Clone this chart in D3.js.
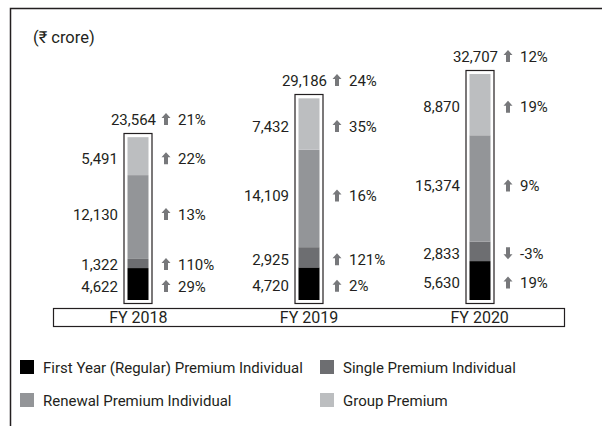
<!DOCTYPE html>
<html>
<head>
<meta charset="utf-8">
<script src="https://cdn.jsdelivr.net/npm/d3@7"></script>
<style>
  body { margin: 0; background: #fff; }
  svg text { font-family: Roboto, "Noto Sans", "DejaVu Sans", sans-serif; fill: #231f20; }
</style>
</head>
<body>
<div id="graph"></div>
<script>
  // data (₹ crore)
  const years = ["FY 2018", "FY 2019", "FY 2020"];
  const series = ["First Year (Regular) Premium Individual", "Single Premium Individual",
                  "Renewal Premium Individual", "Group Premium"];
  const first_year = [4622, 4720, 5630];
  const single = [1322, 2925, 2833];
  const renewal = [12130, 14109, 15374];
  const group = [5491, 7432, 8870];
  const totals = [23564, 29186, 32707];
  const growth_first = [29, 2, 19];
  const growth_single = [110, 121, -3];
  const growth_renewal = [13, 16, 9];
  const growth_group = [22, 35, 19];
  const growth_total = [21, 24, 12];
  const colors = ["#000000", "#6d6e71", "#939598", "#bcbec0"];

  const width = 602, height = 426;
  const ink = "#231f20";

  let svg = d3.select("#graph").append("svg")
    .attr("width", width)
    .attr("height", height);

  // frame (top + left only)
  svg.append("path")
    .attr("d", "M10.5,426 V8.5 H602")
    .attr("fill", "none")
    .attr("stroke", ink)
    .attr("stroke-width", 1.5);

  svg.append("text")
    .attr("x", 33).attr("y", 43)
    .style("font-size", "16.5px")
    .text("(₹ crore)");

  const values = [first_year, single, renewal, group];
  const growths = [growth_first, growth_single, growth_renewal, growth_group];

  let x = d3.scaleBand().domain(years).range([53, 565]);
  let y = d3.scaleLinear().domain([0, d3.max(totals)]).range([300, 74]);

  const bar_w = 21, pad = 4;

  // category strip
  svg.append("rect")
    .attr("x", 53.5).attr("y", 308.5)
    .attr("width", 511).attr("height", 18)
    .attr("fill", "none").attr("stroke", ink).attr("stroke-width", 1.2);
  svg.selectAll(".cat").data(years).enter().append("text")
    .attr("class", "cat")
    .attr("x", d => x(d) + x.bandwidth() / 2)
    .attr("y", 323)
    .attr("text-anchor", "middle")
    .style("font-size", "16px")
    .text(d => d);

  function arrow(g, cx, cy, up) {
    const s = up ? 1 : -1;
    g.append("path")
      .attr("d", `M${cx},${cy - 6 * s} L${cx + 4.5},${cy - 1 * s} L${cx + 2},${cy - 1 * s} L${cx + 2},${cy + 6 * s} L${cx - 2},${cy + 6 * s} L${cx - 2},${cy - 1 * s} L${cx - 4.5},${cy - 1 * s} Z`)
      .attr("fill", "#77787b");
  }

  years.forEach(function(yr, i) {
    const cx = Math.round(x(yr) + x.bandwidth() / 2);
    let g = svg.append("g");
    // stacked segments
    let base = 0;
    const segs = values.map(function(v, k) {
      const s = { k: k, y0: base, y1: base + v[i], v: v[i], gr: growths[k][i] };
      base += v[i];
      return s;
    });
    g.append("rect")
      .attr("x", cx - bar_w / 2 - pad + 0.5)
      .attr("y", Math.round(y(totals[i])) - pad + 0.5)
      .attr("width", bar_w + pad * 2 - 1)
      .attr("height", y(0) - Math.round(y(totals[i])) + pad * 2 - 1)
      .attr("fill", "#fff").attr("stroke", ink).attr("stroke-width", 1.2);
    g.selectAll(".seg").data(segs).enter().append("rect")
      .attr("class", "seg")
      .attr("x", cx - bar_w / 2)
      .attr("y", d => y(d.y1))
      .attr("width", bar_w)
      .attr("height", d => y(d.y0) - y(d.y1))
      .attr("fill", d => colors[d.k]);

    // label positions: segment middle, pushed apart when crowded
    let ly = segs.map(d => y((d.y0 + d.y1) / 2) + 2);
    ly[2] -= 5;
    for (let k = 1; k < ly.length; k++) {
      if (ly[k - 1] - ly[k] < 22) ly[k] = ly[k - 1] - 22;
    }
    segs.forEach(function(d, k) {
      g.append("text")
        .attr("x", cx - 20).attr("y", ly[k] + 5.5)
        .attr("text-anchor", "end")
        .style("font-size", "15px")
        .text(d3.format(",")(d.v));
      arrow(g, cx + 28, ly[k], d.gr >= 0);
      g.append("text")
        .attr("x", cx + 40).attr("y", ly[k] + 5.5)
        .style("font-size", "15px")
        .text(d.gr + "%");
    });

    // total
    const ty = Math.round(y(totals[i])) - pad - 14;
    g.append("text")
      .attr("x", cx + 18).attr("y", ty + 5.5)
      .attr("text-anchor", "end")
      .style("font-size", "15px")
      .text(d3.format(",")(totals[i]));
    arrow(g, cx + 28, ty, growth_total[i] >= 0);
    g.append("text")
      .attr("x", cx + 40).attr("y", ty + 5.5)
      .style("font-size", "15px")
      .text(growth_total[i] + "%");
  });

  // legend
  const legend_pos = [[20, 360], [320, 360], [20, 393], [320, 393]];
  let legend = svg.selectAll(".legend").data(series).enter().append("g")
    .attr("class", "legend")
    .attr("transform", (d, i) => `translate(${legend_pos[i][0]}, ${legend_pos[i][1]})`);
  legend.append("rect")
    .attr("width", 14).attr("height", 14)
    .attr("fill", (d, i) => colors[i]);
  legend.append("text")
    .attr("x", 23).attr("y", 12.5)
    .style("font-size", "15px")
    .text(d => d);
</script>
</body>
</html>
